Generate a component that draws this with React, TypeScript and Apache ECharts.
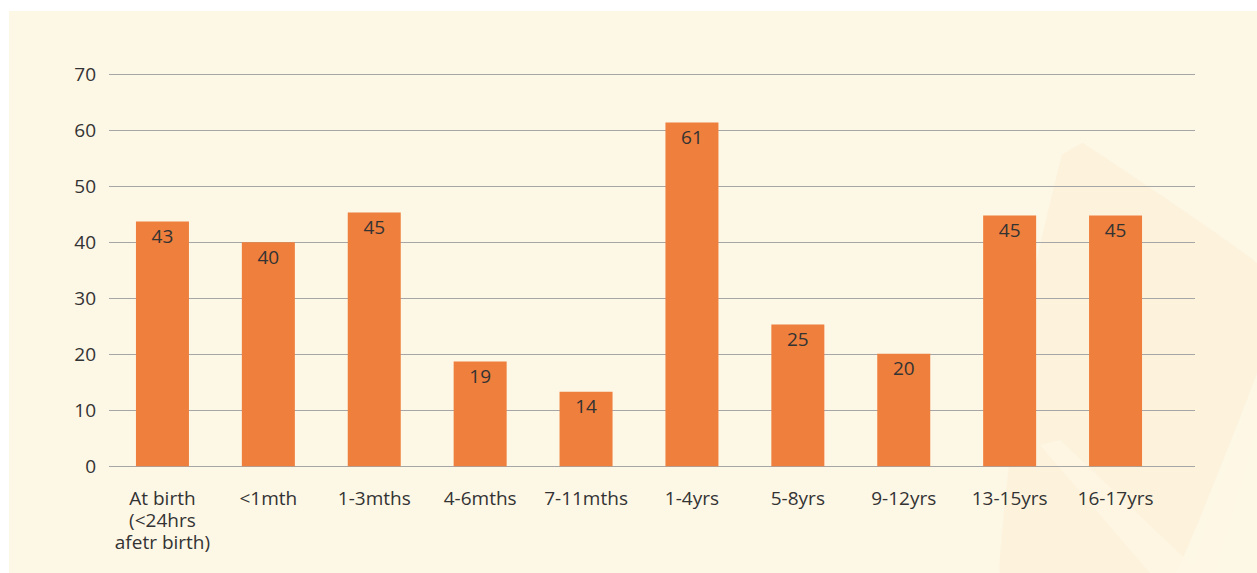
import React, { useEffect, useRef } from "react";
import * as echarts from "echarts";

const categories = [
  "At birth\n(<24hrs\nafetr birth)",
  "<1mth",
  "1-3mths",
  "4-6mths",
  "7-11mths",
  "1-4yrs",
  "5-8yrs",
  "9-12yrs",
  "13-15yrs",
  "16-17yrs",
];
const values = [43.7, 40.0, 45.3, 18.7, 13.3, 61.4, 25.3, 20.1, 44.8, 44.8];
const valueLabels = ["43", "40", "45", "19", "14", "61", "25", "20", "45", "45"];
const yTicks = { min: 0, max: 70, interval: 10 };

const FONT = "'Open Sans', sans-serif";
const TEXT = "#333333";
const BAR = "#EF7F3C";
const CREAM = "#FDF7E6";

export default function App() {
  const ref = useRef<HTMLDivElement>(null);
  useEffect(() => {
    document.body.style.margin = "0";
    if (!ref.current) return;
    const chart = echarts.init(ref.current, undefined, { renderer: "svg" });
    chart.setOption({
      animation: false,
      backgroundColor: CREAM,
      textStyle: { fontFamily: FONT },
      graphic: [
        { type: "rect", z: -5, shape: { x: 0, y: 0, width: 1257, height: 11 }, style: { fill: "#ffffff" } },
        { type: "rect", z: -5, shape: { x: 0, y: 0, width: 9, height: 573 }, style: { fill: "#ffffff" } },
        {
          type: "polygon",
          z: -4,
          shape: {
            points: [[1083, 143], [1257, 263], [1257, 373], [1175, 573], [1000, 573], [1030, 290], [1062, 155]],
            smooth: 0.05,
          },
          style: { fill: "#FDF1D9", opacity: 0.65 },
        },
        {
          type: "polygon",
          z: -3,
          shape: {
            points: [[1040, 445], [1060, 440], [1200, 573], [1150, 573]],
          },
          style: { fill: CREAM, opacity: 0.7 },
        },
        {
          type: "polygon",
          z: -3,
          shape: {
            points: [[1257, 380], [1257, 430], [1215, 573], [1190, 573]],
          },
          style: { fill: CREAM, opacity: 0.7 },
        },
      ],
      grid: [
        { left: 109, top: 74.3, width: 1086, height: 392, containLabel: false },
        { left: 109.5, top: 74.3, width: 1059, height: 392, containLabel: false },
      ],
      xAxis: [
        { type: "value", gridIndex: 0, show: false, min: 0, max: 1 },
        {
          type: "category",
          gridIndex: 1,
          data: categories,
          axisLine: { show: false },
          axisTick: { show: false },
          axisLabel: {
            interval: 0,
            color: TEXT,
            fontSize: 19,
            lineHeight: 22,
            fontFamily: FONT,
            margin: 21,
          },
        },
      ],
      yAxis: [
        {
          type: "value",
          gridIndex: 0,
          min: yTicks.min,
          max: yTicks.max,
          interval: yTicks.interval,
          axisLine: { show: false },
          axisTick: { show: false },
          axisLabel: { color: TEXT, fontSize: 19, fontFamily: FONT, margin: 13 },
          splitLine: { lineStyle: { color: "#A6A6A6", width: 1.2 } },
        },
        {
          type: "value",
          gridIndex: 1,
          min: yTicks.min,
          max: yTicks.max,
          interval: yTicks.interval,
          show: false,
        },
      ],
      series: [
        {
          type: "bar",
          xAxisIndex: 1,
          yAxisIndex: 1,
          data: values,
          barWidth: 53,
          itemStyle: { color: BAR },
          label: {
            show: true,
            position: "insideTop",
            distance: 5,
            color: TEXT,
            fontSize: 19,
            lineHeight: 19,
            fontFamily: FONT,
            formatter: (p: any) => valueLabels[p.dataIndex],
          },
        },
      ],
    });
    return () => chart.dispose();
  }, []);
  return <div ref={ref} style={{ width: 1257, height: 573 }} />;
}
